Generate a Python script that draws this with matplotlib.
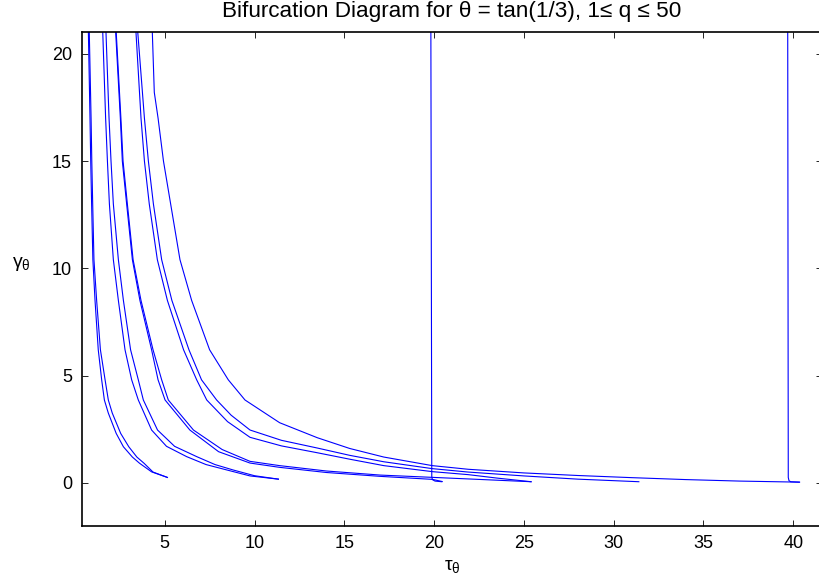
import matplotlib
matplotlib.use('Agg')
import matplotlib.pyplot as plt

plt.rcParams['font.family'] = ['Liberation Sans', 'DejaVu Sans']
plt.rcParams['mathtext.fontset'] = 'custom'
plt.rcParams['mathtext.rm'] = 'Liberation Sans'
plt.rcParams['mathtext.it'] = 'Liberation Sans'

# curves (tau, gamma)
a1_tau = [0.75, 0.84, 0.88, 0.93, 1.00, 1.12, 1.30, 1.49, 1.64, 1.86, 2.30, 2.70, 3.20, 3.60, 4.27, 5.15]
a1_gam = [21, 17, 15, 13, 10.4, 8.5, 6.2, 4.8, 3.86, 3.25, 2.30, 1.68, 1.20, 0.91, 0.51, 0.25]
a2_tau = [0.80, 0.90, 0.94, 0.99, 1.06, 1.21, 1.42, 1.68, 1.86, 2.08, 2.55, 3.00, 3.45, 3.85, 4.35, 5.15]
a2_gam = [21, 17, 15, 13, 10.4, 8.5, 6.2, 4.8, 3.86, 3.25, 2.30, 1.68, 1.20, 0.91, 0.50, 0.25]

b1_tau = [1.55, 1.71, 1.81, 1.92, 2.14, 2.42, 2.79, 3.16, 3.53, 4.27, 5.10, 6.22, 7.30, 8.45, 9.75, 11.33]
b1_gam = [21, 17, 15, 13, 10.4, 8.5, 6.2, 4.8, 3.86, 2.46, 1.70, 1.22, 0.85, 0.60, 0.32, 0.17]
b2_tau = [1.73, 1.90, 2.01, 2.14, 2.42, 2.70, 3.10, 3.53, 3.81, 4.60, 5.55, 6.78, 7.80, 8.80, 10.0, 11.33]
b2_gam = [21, 17, 15, 13, 10.4, 8.5, 6.2, 4.8, 3.86, 2.46, 1.70, 1.22, 0.85, 0.60, 0.33, 0.17]

t1_tau = [2.27, 2.53, 2.64, 2.88, 3.20, 3.62, 4.27, 4.63, 5.02, 6.40, 8.00, 9.75, 11.4, 14.0, 17.0, 19.9, 20.45]
t1_gam = [21, 17, 15, 13, 10.4, 8.5, 6.2, 4.8, 3.86, 2.46, 1.45, 0.92, 0.72, 0.48, 0.30, 0.16, 0.06]
t2_tau = [2.30, 2.56, 2.68, 2.92, 3.24, 3.68, 4.35, 4.83, 5.20, 6.60, 8.20, 9.75, 11.4, 14.0, 17.0, 21.9, 25.4]
t2_gam = [21, 17, 15, 13, 10.4, 8.5, 6.2, 4.8, 3.86, 2.46, 1.55, 1.00, 0.80, 0.55, 0.36, 0.18, 0.05]

p1_tau = [3.40, 3.68, 3.87, 4.14, 4.59, 5.15, 6.05, 6.78, 7.34, 8.50, 9.75, 11.5, 13.5, 15.3, 17.2,
          19.9, 21.9, 23.5, 25.4]
p1_gam = [21, 17, 15, 13, 10.4, 8.5, 6.2, 4.8, 3.86, 2.85, 2.12, 1.72, 1.40, 1.10, 0.80,
          0.52, 0.38, 0.22, 0.05]
p2_tau = [3.50, 3.87, 4.09, 4.37, 4.83, 5.40, 6.35, 7.05, 7.89, 8.70, 9.75, 11.5, 13.5, 15.3, 17.2,
          19.9, 21.9, 25.0, 28.0, 31.4]
p2_gam = [21, 17, 15, 13, 10.4, 8.5, 6.2, 4.8, 3.86, 3.15, 2.46, 1.98, 1.62, 1.28, 0.98,
          0.66, 0.50, 0.32, 0.17, 0.05]

s_tau = [4.31, 4.42, 4.63, 4.93, 5.33, 5.85, 6.50, 7.50, 8.54, 9.47, 11.4, 13.5, 15.3, 17.2, 19.9,
         21.9, 25.0, 28.0, 31.0, 34.0, 37.0, 40.35]
s_gam = [21, 18.2, 17, 15, 13, 10.4, 8.5, 6.2, 4.8, 3.86, 2.80, 2.10, 1.60, 1.20, 0.80,
         0.63, 0.46, 0.34, 0.24, 0.15, 0.08, 0.03]

c_tau = [19.82, 19.87, 19.90, 20.05, 20.42]
c_gam = [21, 0.30, 0.15, 0.08, 0.05]
f_tau = [39.69, 39.72, 39.76, 39.85, 40.33]
f_gam = [21, 0.25, 0.10, 0.05, 0.03]

curves = [(a1_tau, a1_gam), (a2_tau, a2_gam), (b1_tau, b1_gam), (b2_tau, b2_gam),
          (t1_tau, t1_gam), (t2_tau, t2_gam), (p1_tau, p1_gam), (p2_tau, p2_gam),
          (s_tau, s_gam), (c_tau, c_gam), (f_tau, f_gam)]

fig = plt.figure(figsize=(8.19, 5.86), dpi=100)
ax = fig.add_axes([0.0998, 0.1029, 0.9039, 0.842])

for tau, gam in curves:
    ax.plot(tau, gam, color='blue', lw=0.8)

ax.set_xlim(0.38, 41.6)
ax.set_ylim(-2, 21)
ax.set_xticks([5, 10, 15, 20, 25, 30, 35, 40])
ax.set_yticks([0, 5, 10, 15, 20])
ax.tick_params(direction='in', length=4.5, width=0.6, top=True, right=True,
               labelsize=13, pad=7)
for sp in ax.spines.values():
    sp.set_linewidth(1.2)

ax.set_title('Bifurcation Diagram for \u03b8 = tan(1/3), 1\u2264 q \u2264 50',
             fontsize=16.2, pad=11)
ax.set_xlabel(r'$\tau_\theta$', fontsize=14, labelpad=4)
ax.set_ylabel(r'$\gamma_\theta$', fontsize=14, rotation=0, ha='center', va='center')
ax.yaxis.set_label_coords(-0.082, 0.53)

fig.savefig('out.png', dpi=100)
